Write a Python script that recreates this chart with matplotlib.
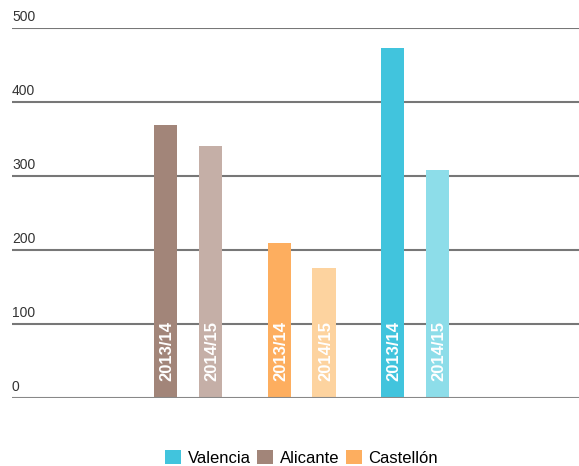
import numpy as np
import matplotlib
matplotlib.use("Agg")
from matplotlib import pyplot as plt
from matplotlib.patches import Patch
import matplotlib.transforms as mtransforms

plt.rcParams['font.family'] = ['Liberation Sans', 'DejaVu Sans']

provinces = ["Alicante", "Castellón", "Valencia"]
seasons = ["2013/14", "2014/15"]
values_1314 = [369, 209, 473]
values_1415 = [340, 176, 308]
legend_order = ["Valencia", "Alicante", "Castellón"]
yticks = [0, 100, 200, 300, 400, 500]

dark = {"Alicante": "#a28579", "Castellón": "#fdae5f", "Valencia": "#41c4dd"}
light = {"Alicante": "#c5afa7", "Castellón": "#fdd39f", "Valencia": "#8ddde9"}


def main():
    fig = plt.figure(figsize=(5.79, 4.66), dpi=100)
    ax = fig.add_axes([12 / 579, 68 / 466, 567 / 579, 370 / 466])

    x = np.arange(len(provinces))
    off = 0.198
    w = 0.203
    for i, p in enumerate(provinces):
        ax.bar(x[i] - off, values_1314[i], w, color=dark[p], zorder=2)
        ax.bar(x[i] + off, values_1415[i], w, color=light[p], zorder=2)
        for xx, s in [(x[i] - off, seasons[0]), (x[i] + off, seasons[1])]:
            ax.annotate(s, (xx, 0), xytext=(1, 12), textcoords="offset points",
                        rotation=90, ha="center", va="bottom", color="white",
                        fontsize=12, fontweight="bold", zorder=4)

    # gridlines
    for v in yticks[1:]:
        ax.axhline(v, color="#777777", lw=1.5, zorder=1)
    ax.axhline(0, color="#888888", lw=1.5, zorder=3)

    trans = mtransforms.blended_transform_factory(ax.transAxes, ax.transData)
    for v in yticks:
        ax.annotate(str(v), (0, v), xycoords=trans, xytext=(0, 3),
                    textcoords="offset points", ha="left", va="bottom",
                    fontsize=10, color="#333333")

    ax.set_xlim(-1.551, 3.445)
    ax.set_ylim(0, 500)
    ax.axis("off")

    handles = [Patch(facecolor=dark[p], edgecolor="none") for p in legend_order]
    fig.legend(handles, legend_order, loc="center", ncol=3,
               bbox_to_anchor=(301.5 / 579, 1 - 458 / 466), frameon=False,
               fontsize=12, handlelength=0.95, handleheight=0.95,
               handletextpad=0.4, columnspacing=0.4)

    fig.savefig("out.png", dpi=100)


if __name__ == "__main__":
    main()
